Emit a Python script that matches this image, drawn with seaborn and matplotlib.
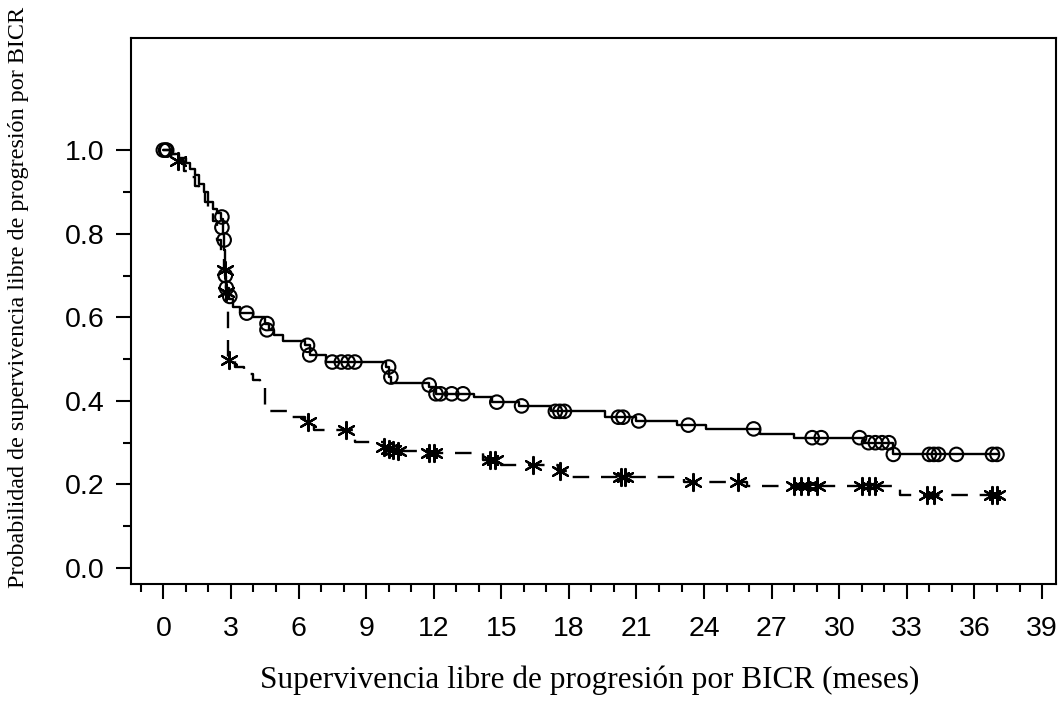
import numpy as np
import pandas as pd
import matplotlib
matplotlib.use("Agg")
import matplotlib.pyplot as plt
from matplotlib.ticker import MultipleLocator, FixedLocator
import seaborn as sns

# brazo A (linea continua, censuras = circulos)
a_time = [0, 0.4, 0.7, 1.0, 1.2, 1.4, 1.6, 1.8, 2.0, 2.2, 2.4, 2.55, 2.65, 2.7, 2.75, 2.8, 2.9,
          3.1, 3.4, 4.0, 4.5, 4.7, 4.9, 5.3, 6.3, 6.5, 7.2, 9.9, 10.0, 10.1, 11.8, 12.1, 13.8,
          14.6, 15.8, 17.2, 19.6, 21.0, 22.8, 24.1, 26.5, 28.0, 31.1, 32.4, 37.1]
a_surv = [1.0, 0.99, 0.98, 0.97, 0.955, 0.94, 0.92, 0.90, 0.876, 0.86, 0.85, 0.835, 0.80, 0.76,
          0.70, 0.67, 0.645, 0.625, 0.61, 0.60, 0.585, 0.57, 0.557, 0.543, 0.533, 0.51, 0.493,
          0.481, 0.457, 0.443, 0.433, 0.417, 0.41, 0.397, 0.388, 0.375, 0.361, 0.352, 0.342,
          0.332, 0.321, 0.312, 0.30, 0.272, 0.272]
a_cens_t = [0.0, 0.1, 0.15, 2.6, 2.6, 2.7, 2.75, 2.8, 2.95, 3.7, 4.6, 4.6, 6.4, 6.5, 7.5, 7.9,
            8.2, 8.5, 10.0, 10.1, 11.8, 12.1, 12.3, 12.8, 13.3, 14.8, 15.9, 17.4, 17.6, 17.8,
            20.2, 20.4, 21.1, 23.3, 26.2, 28.8, 29.2, 30.9, 31.3, 31.6, 31.9, 32.2, 32.4, 34.0,
            34.2, 34.4, 35.2, 36.8, 37.0]
a_cens_s = [1.0, 1.0, 1.0, 0.84, 0.815, 0.785, 0.70, 0.67, 0.65, 0.61, 0.585, 0.57, 0.533, 0.51,
            0.493, 0.493, 0.493, 0.493, 0.481, 0.457, 0.438, 0.417, 0.417, 0.417, 0.417, 0.397,
            0.388, 0.375, 0.375, 0.375, 0.361, 0.361, 0.352, 0.342, 0.333, 0.312, 0.312, 0.312,
            0.30, 0.30, 0.30, 0.30, 0.272, 0.272, 0.272, 0.272, 0.272, 0.272, 0.272]

# brazo B (linea discontinua, censuras = asteriscos)
b_time = [0, 0.3, 0.6, 0.9, 1.1, 1.4, 1.6, 1.85, 2.0, 2.2, 2.4, 2.55, 2.7, 2.8, 2.85, 3.2, 3.6,
          4.0, 4.3, 4.5, 5.6, 6.3, 6.7, 8.5, 9.8, 10.3, 11.5, 14.2, 15.0, 17.5, 18.1, 23.1,
          25.9, 32.7, 37.0]
b_surv = [1.0, 0.99, 0.975, 0.95, 0.935, 0.915, 0.897, 0.876, 0.855, 0.83, 0.785, 0.75, 0.713,
          0.66, 0.50, 0.48, 0.465, 0.45, 0.435, 0.375, 0.361, 0.35, 0.33, 0.301, 0.29, 0.28,
          0.275, 0.258, 0.246, 0.232, 0.217, 0.205, 0.196, 0.175, 0.175]
b_cens_t = [0.65, 2.75, 2.8, 2.9, 6.4, 8.1, 9.8, 10.0, 10.2, 10.4, 11.8, 12.0, 14.5, 14.7, 16.4,
            17.6, 20.3, 20.5, 23.5, 25.5, 28.0, 28.3, 28.6, 29.0, 31.0, 31.3, 31.6, 33.9, 34.2,
            36.8, 37.0]
b_cens_s = [0.975, 0.713, 0.66, 0.498, 0.35, 0.33, 0.29, 0.285, 0.282, 0.28, 0.275, 0.275, 0.258,
            0.258, 0.246, 0.232, 0.217, 0.217, 0.205, 0.205, 0.196, 0.196, 0.196, 0.196, 0.196,
            0.196, 0.196, 0.175, 0.175, 0.175, 0.175]

x_ticks = list(range(0, 40, 3))
y_ticks = [0.0, 0.2, 0.4, 0.6, 0.8, 1.0]

sns.set_style("ticks")
plt.rcParams["font.family"] = ["Liberation Sans", "DejaVu Sans"]
plt.rcParams["text.color"] = "black"
plt.rcParams["xtick.color"] = "black"
plt.rcParams["ytick.color"] = "black"

fig = plt.figure(figsize=(10.64, 7.19), dpi=100)
ax = fig.add_axes([0.1228, 0.1878, 0.8697, 0.7592])

df_a = pd.DataFrame({"t": a_time, "s": a_surv})
df_b = pd.DataFrame({"t": b_time, "s": b_surv})

sns.lineplot(data=df_a, x="t", y="s", drawstyle="steps-post", color="black",
             linewidth=1.7, estimator=None, ax=ax)
sns.lineplot(data=df_b, x="t", y="s", drawstyle="steps-post", color="black",
             linewidth=1.7, estimator=None, ax=ax)
ax.lines[-1].set_dashes([7, 5])

sns.scatterplot(x=a_cens_t, y=a_cens_s, marker="o", s=95, ax=ax, zorder=3)
coll = ax.collections[-1]
coll.set_facecolor("none")
coll.set_edgecolor("black")
coll.set_linewidth(1.5)

sns.scatterplot(x=b_cens_t, y=b_cens_s, marker=(6, 2, 0), s=150, ax=ax, zorder=3)
coll = ax.collections[-1]
coll.set_facecolor("black")
coll.set_edgecolor("black")
coll.set_linewidth(1.6)

ax.set_xlim(-1.45, 39.62)
ax.set_ylim(-0.038, 1.268)
ax.xaxis.set_major_locator(FixedLocator(x_ticks))
ax.xaxis.set_minor_locator(MultipleLocator(1))
ax.yaxis.set_major_locator(FixedLocator(y_ticks))
ax.yaxis.set_minor_locator(FixedLocator([0.1, 0.3, 0.5, 0.7, 0.9]))
ax.set_xticklabels([str(v) for v in x_ticks])
ax.set_yticklabels([f"{v:.1f}" for v in y_ticks])

ax.tick_params(which="major", length=11, width=1.5, labelsize=20.5,
               color="black", labelcolor="black")
ax.tick_params(axis="x", which="major", pad=12)
ax.tick_params(axis="y", which="major", pad=8)
ax.tick_params(which="minor", length=5.5, width=1.5, color="black")
for sp in ax.spines.values():
    sp.set_visible(True)
    sp.set_linewidth(1.5)
    sp.set_color("black")

ax.set_xlabel("")
ax.set_ylabel("")
fig.text(0.5545, 0.054, "Supervivencia libre de progresión por BICR (meses)",
         family="Liberation Serif", fontsize=22.5, ha="center", va="center")
fig.text(0.017, 0.586, "Probabilidad de supervivencia libre de progresión por BICR",
         family="Liberation Serif", fontsize=17.4, ha="center", va="center", rotation=90)

fig.savefig("out.png", dpi=100)
